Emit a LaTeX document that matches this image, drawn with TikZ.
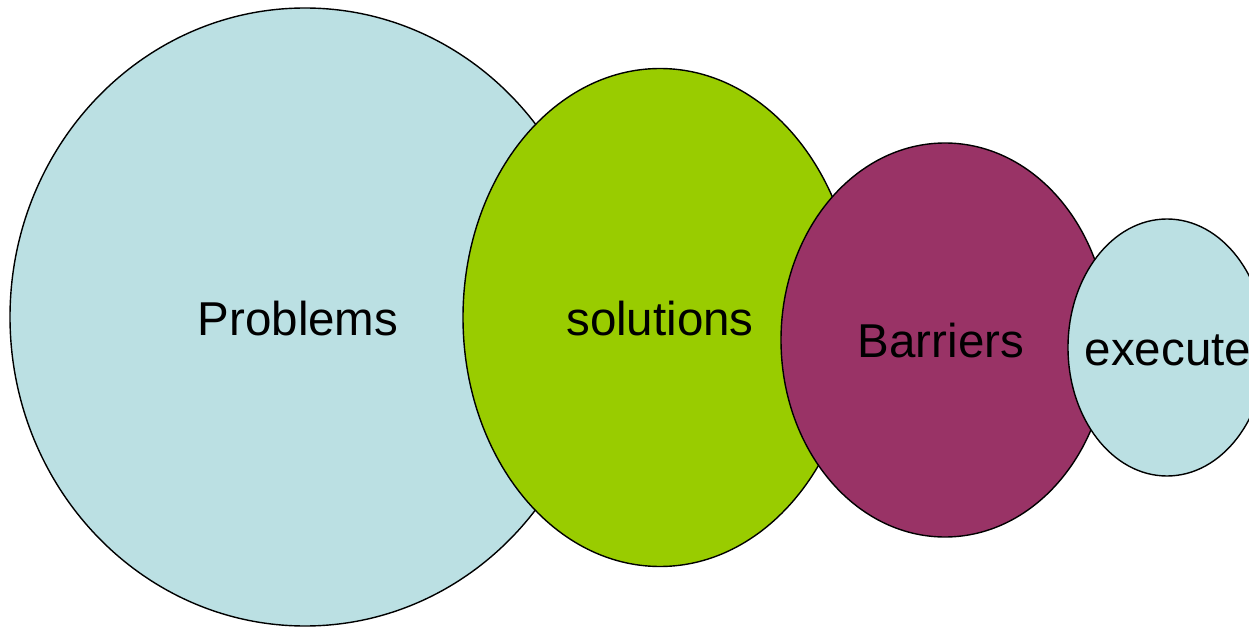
\documentclass[tikz,border=0pt]{standalone}
\usepackage{fontspec}
\setmainfont{Liberation Sans}
\definecolor{lblue}{HTML}{BBE0E3}
\definecolor{lgreen}{HTML}{99CC00}
\definecolor{maroon}{HTML}{993366}
\begin{document}
\begin{tikzpicture}[x=1bp,y=-1bp,
  blob/.style={draw=black,line width=1.4bp},
  lbl/.style={anchor=base,inner sep=0pt,font=\fontsize{47.5bp}{52bp}\selectfont}]
\useasboundingbox (0,0) rectangle (1249,627);
\clip (0,0) rectangle (1249,627);
\path[blob,fill=lblue] (305,317) ellipse [x radius=295,y radius=309];
\path[blob,fill=lgreen] (660,317.5) ellipse [x radius=197,y radius=249];
\path[blob,fill=maroon] (945,340) ellipse [x radius=164,y radius=197];
\path[blob,fill=lblue] (1167,347.5) ellipse [x radius=99,y radius=128.5];
\node[lbl] (p) at (298,336) {Problems};
\node[lbl] (s) at (660,336) {solutions};
\node[lbl] (b) at (941,358) {Barriers};
\node[lbl] (e) at (1168,366) {execute};
\end{tikzpicture}
\end{document}
